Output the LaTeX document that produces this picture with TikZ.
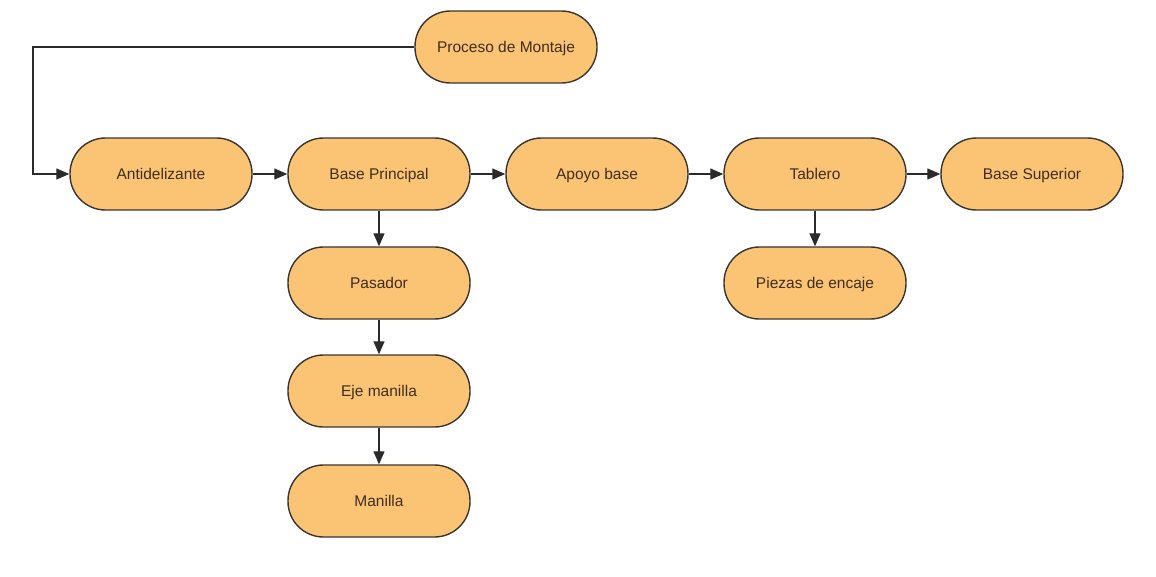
\documentclass[tikz,border=0pt]{standalone}
\usepackage{fontspec}
\setmainfont{Liberation Sans}
\usetikzlibrary{arrows.meta}
\definecolor{pillfill}{HTML}{FBC475}
\definecolor{pillline}{HTML}{3A3530}
\definecolor{pilltext}{HTML}{3F2E1C}
\definecolor{linecol}{HTML}{2A2A2A}
\tikzset{
  pill/.style={draw=pillline, line width=1.4pt, fill=pillfill, rounded corners=35.5pt,
    minimum width=182pt, minimum height=72pt, inner sep=0pt,
    text height=12pt, text depth=2pt,
    font=\fontsize{15.5}{18}\selectfont, text=pilltext},
  conn/.style={draw=linecol, line width=1.3pt, -{Triangle[length=13pt,width=11pt]}}
}
\begin{document}
\begin{tikzpicture}[x=1pt,y=-1pt]
\useasboundingbox (0,0) rectangle (1156,576);
\node[pill] (proc) at (506,47) {Proceso de Montaje};
\node[pill] (anti) at (161,174) {Antidelizante};
\node[pill] (base) at (379,174) {Base Principal};
\node[pill] (apoyo) at (597,174) {Apoyo base};
\node[pill] (tab) at (815,174) {Tablero};
\node[pill] (sup) at (1032,174) {Base Superior};
\node[pill] (pas) at (379,283) {Pasador};
\node[pill] (eje) at (379,391) {Eje manilla};
\node[pill] (man) at (379,501) {Manilla};
\node[pill] (piez) at (815,283) {Piezas de encaje};
\coordinate (c1) at (33,47);
\coordinate (c2) at (33,174);
\draw[conn] (proc.west) -- (c1) -- (c2) -- (anti.west);
\draw[conn] (anti) -- (base);
\draw[conn] (base) -- (apoyo);
\draw[conn] (apoyo) -- (tab);
\draw[conn] (tab) -- (sup);
\draw[conn] (base) -- (pas);
\draw[conn] (pas) -- (eje);
\draw[conn] (eje) -- (man);
\draw[conn] (tab) -- (piez);
\end{tikzpicture}
\end{document}
